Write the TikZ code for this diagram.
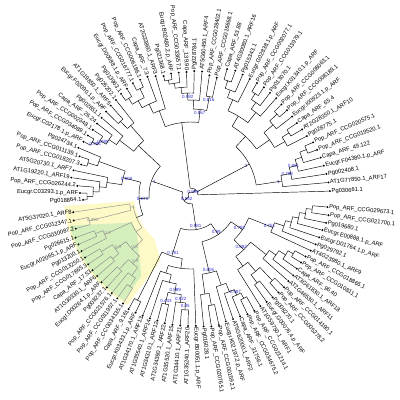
\documentclass[tikz,border=0pt]{standalone}
\usepackage{fontspec}
\setmainfont{Liberation Sans}
\definecolor{supc}{RGB}{45,45,215}
\definecolor{hlyel}{RGB}{253,250,200}
\definecolor{hlgrn}{RGB}{212,238,188}
\tikzset{
  br/.style={draw=black, line width=0.45pt},
  tipdot/.style={circle, fill=black, inner sep=0pt, minimum size=2.2pt},
  tiplab/.style={font=\fontsize{5.8}{6}\selectfont, inner sep=0.3pt},
  supp/.style={font=\fontsize{4.5}{5}\selectfont, text=supc, inner sep=0pt},
}
\newcommand\LeafAngle[1]{%
  \ifnum#1<52 \pgfmathsetmacro\tmpa{1.6+(#1-1)*3.62}%
  \else\ifnum#1<55 \pgfmathsetmacro\tmpa{188.3+(#1-52)*4.0}%
  \else\ifnum#1<77 \pgfmathsetmacro\tmpa{200.3+(#1-55)*3.42}%
  \else \pgfmathsetmacro\tmpa{275.5+(#1-77)*3.31}\fi\fi\fi}
\newcommand\Lf[3]{%
  \LeafAngle{#1}%
  \expandafter\xdef\csname angXL#1\endcsname{\tmpa}%
  \node[tipdot] (L#1) at (\tmpa:#2) {};
  \pgfmathsetmacro\tmpr{#2+1.2}%
  \pgfmathtruncatemacro\isleft{cos(\tmpa)<0 ? 1 : 0}%
  \ifnum\isleft=1
    \pgfmathsetmacro\rot{\tmpa-180}%
    \node[tiplab, anchor=east, rotate=\rot] (T#1) at (\tmpa:\tmpr) {#3};
  \else
    \node[tiplab, anchor=west, rotate=\tmpa] (T#1) at (\tmpa:\tmpr) {#3};
  \fi}
% \In[branch style]{name}{radius}{support}{children in angle order}
\newcommand\In[5][]{%
  \foreach \c [count=\k] in {#5}{\ifnum\k=1 \xdef\InFirst{\c}\fi\xdef\InLast{\c}}%
  \edef\As{\csname angX\InFirst\endcsname}%
  \edef\Ae{\csname angX\InLast\endcsname}%
  \pgfmathsetmacro\Am{(\As+\Ae)/2}%
  \expandafter\xdef\csname angX#2\endcsname{\Am}%
  \coordinate (#2) at (\Am:#3);
  \draw[br,#1] (\As:#3) arc[start angle=\As, end angle=\Ae, radius=#3pt];
  \foreach \c in {#5}{%
    \edef\ca{\csname angX\c\endcsname}%
    \coordinate (\c-b) at (\ca:#3);
    \draw[br,#1] (\c-b) -- (\c);
  }%
  \if\relax\detokenize{#4}\relax\else
    \pgfmathsetmacro\sr{#3-3.5}%
    \node[supp,#1,draw=none] at (\Am:\sr) {#4};
  \fi}
\tikzset{gbr/.style={draw=black!45, text=black!40}}
\begin{document}
\begin{tikzpicture}[x=1pt,y=1pt]
\useasboundingbox (-191,-205) rectangle (209,195);
\fill[white] (-191,-205) rectangle (209,195);
% clade highlights
\fill[hlyel] (185:121) -- (186:57) arc[start angle=186,end angle=230,radius=57pt] -- (245:72) -- (240:127) arc[start angle=240,end angle=185,radius=127pt] -- cycle;
\fill[hlgrn] (194.5:122) -- (205:65) -- (215:66) -- (238.5:95) -- (237.5:125) arc[start angle=237.5,end angle=194.5,radius=125pt] -- cycle;
% leaves
\Lf{1}{139}{Pg030661.1}
\Lf{2}{138}{AT1G77850.1\_ARF17}
\Lf{3}{137}{Pg002408.1}
\Lf{4}{136}{Eucgr.F04380.1.p\_ARF}
\Lf{5}{135}{Capa\_ARF\_49.122}
\Lf{6}{134}{Pop\_ARF\_CCG019520.1}
\Lf{7}{133}{Pop\_ARF\_CCG020575.1}
\Lf{8}{130}{Pg028775.1}
\Lf{9}{129}{AT2G28350.1\_ARF10}
\Lf{10}{128}{Capa\_ARF\_65.4}
\Lf{11}{128}{Eucgr.I00923.1.p\_ARF}
\Lf{12}{128}{Pop\_ARF\_CCG008189.1}
\Lf{13}{128}{Pop\_ARF\_CCG008063.1}
\Lf{14}{129}{Eucgr.K01340.1.p\_ARF}
\Lf{15}{129}{Pg013070.1}
\Lf{16}{130}{Pop\_ARF\_CCG013979.1}
\Lf{17}{130}{Pop\_ARF\_CCG002077.1}
\Lf{18}{130}{Eucgr.G02838.1.p\_ARF}
\Lf{19}{131}{Pg015343.1}
\Lf{20}{132}{AT4G30080.1\_ARF16}
\Lf{21}{131}{Capa\_ARF\_53.88}
\Lf{22}{120}{Pop\_ARF\_CCG016668.1}
\Lf{23}{121}{Pop\_ARF\_CCG028402.1}
\Lf{24}{124}{AT5G60450.1\_ARF4}
\Lf{25}{124}{Pg028784.1}
\Lf{26}{123}{Capa\_ARF\_139.90}
\Lf{27}{123}{Pop\_ARF\_CCG033657.1}
\Lf{28}{123}{Eucgr.B02480.2.p\_ARF}
\Lf{29}{122}{Pg021368.1}
\Lf{30}{124}{AT2G33860.1\_ARF3}
\Lf{31}{126}{Capa\_ARF\_7.3}
\Lf{32}{126}{Pop\_ARF\_CCG006186.1}
\Lf{33}{126}{Pop\_ARF\_CCG016777.1}
\Lf{34}{124}{Eucgr.D00588.1.p\_ARF}
\Lf{35}{123}{Pg013963.1}
\Lf{36}{121}{Pg026202.1}
\Lf{37}{120}{AT1G19850.1\_ARF5}
\Lf{38}{119}{Eucgr.F02090.1.p\_ARF}
\Lf{39}{118}{Pg002651.1}
\Lf{40}{118}{Capa\_ARF\_26.24}
\Lf{41}{118}{Pop\_ARF\_CCG002348.1}
\Lf{42}{119}{Pop\_ARF\_CCG034089.1}
\Lf{43}{120}{Eucgr.C02178.1.p\_ARF}
\Lf{44}{122}{Pg024734.1}
\Lf{45}{118}{Pop\_ARF\_CCG011139.1}
\Lf{46}{114}{Pop\_ARF\_CCG018207.3}
\Lf{47}{120}{AT5G20730.1\_ARF7}
\Lf{48}{121}{AT1G19220.1\_ARF19}
\Lf{49}{114}{Pop\_ARF\_CCG026244.2}
\Lf{50}{111}{Eucgr.C03293.1.p\_ARF}
\Lf{51}{108}{Pg018864.1}
\Lf{52}{119}{AT5G37020.1\_ARF8}
\Lf{53}{120}{Pop\_ARF\_CCG012347.1}
\Lf{54}{120}{Pop\_ARF\_CCG030087.2}
\Lf{55}{123}{Pg026615.1}
\Lf{56}{123}{Eucgr.A02065.1.p\_ARF}
\Lf{57}{123}{Pg013200.1}
\Lf{58}{123}{Pop\_ARF\_CCG013250.1}
\Lf{59}{124}{Pop\_ARF\_CCG017865.3}
\Lf{60}{124}{Capa\_ARF\_17.53}
\Lf{61}{124}{AT1G30330.1\_ARF6}
\Lf{62}{125}{Eucgr.D00264.1.p\_ARF}
\Lf{63}{125}{Pg008237.1}
\Lf{64}{126}{Pop\_ARF\_CCG021576.1}
\Lf{65}{127}{Pop\_ARF\_CCG011957.1}
\Lf{66}{128}{Pop\_ARF\_CCG034135.1}
\Lf{67}{130}{Capa\_ARF\_9.161}
\Lf{68}{130}{Eucgr.K03433.1.p\_ARF}
\Lf{69}{130}{AT1G34170.1\_ARF13}
\Lf{70}{130}{AT1G35540.1\_ARF14}
\Lf{71}{130}{AT1G34310.1\_ARF12}
\Lf{72}{131}{AT1G34390.1\_ARF22}
\Lf{73}{131}{AT1G35520.1\_ARF15}
\Lf{74}{131}{AT1G34410.1\_ARF21}
\Lf{75}{131}{AT1G35240.1\_ARF20}
\Lf{76}{131}{Eucgr.B00051.1.p\_ARF}
\Lf{77}{132}{Pg016028.1}
\Lf{78}{133}{Pop\_ARF\_CCG020765.1}
\Lf{79}{133}{Pop\_ARF\_CCG001592.1}
\Lf{80}{131}{Eucgr.K02197.2.p\_ARF}
\Lf{81}{131}{AT5G62000.1\_ARF2}
\Lf{82}{131}{Capa\_ARF\_31756.1}
\Lf{83}{132}{Pop\_ARF\_CCG034675.2}
\Lf{84}{132}{Pop\_ARF\_CCG021214.1}
\Lf{85}{131}{AT1G59750.1\_ARF1}
\Lf{86}{131}{Eucgr.G00076.4.p\_ARF}
\Lf{87}{131}{Pg008270.1}
\Lf{88}{131}{Pop\_ARF\_CCG005278.2}
\Lf{89}{131}{Pop\_ARF\_CCG014190.1}
\Lf{90}{130}{AT2G46530.1\_ARF11}
\Lf{91}{130}{AT3G61830.1\_ARF18}
\Lf{92}{129}{Capa\_ARF\_96.40}
\Lf{93}{129}{Pop\_ARF\_CCG010811.1}
\Lf{94}{130}{Pop\_ARF\_CCG018865.1}
\Lf{95}{132}{AT4G23980.1\_ARF9}
\Lf{96}{134}{Pg029792.1}
\Lf{97}{135}{Eucgr.D01764.1.p\_ARF}
\Lf{98}{136}{Eucgr.E00888.1.p\_ARF}
\Lf{99}{138}{Pg019680.1}
\Lf{100}{139}{Pop\_ARF\_CCG021700.1}
\Lf{101}{137}{Pop\_ARF\_CCG029673.1}
% group A (ARF10/16/17)
\In{nA17e}{124}{}{L6,L7}
\In{nA17d}{117}{}{L5,nA17e}
\In{nA17c}{110}{0.851}{L4,nA17d}
\In{nA17b}{102}{0.708}{L3,nA17c}
\In{nA17}{92}{1}{L2,nA17b}
\In{nA10b}{116}{}{L9,L10}
\In{nA10a}{108}{}{L8,nA10b}
\In{nA10d}{118}{}{L12,L13}
\In{nA10c}{108}{}{L11,nA10d}
\In{nA10}{96}{}{nA10a,nA10c}
\In{nA16c}{120}{}{L16,L17}
\In{nA16b}{113}{}{L15,nA16c}
\In{nA16a}{105}{}{L14,nA16b}
\In{nA16f}{120}{}{L20,L21}
\In{nA16e}{112}{}{L19,nA16f}
\In{nA16d}{104}{}{L18,nA16e}
\In{nA16}{92}{}{nA16a,nA16d}
\In{nA1016}{80}{}{nA10,nA16}
\In{nA}{66}{1}{nA17,nA1016}
% group T (ARF3/4)
\In{nT4a}{100}{0.816}{L22,L23}
\In{nT4f}{117}{}{L28,L29}
\In{nT4e}{113}{}{L27,nT4f}
\In{nT4d}{108}{}{L26,nT4e}
\In{nT4c}{102}{0.992}{L25,nT4d}
\In{nT4b}{95}{}{L24,nT4c}
\In{nT4}{86}{0.867}{nT4a,nT4b}
\In{nT3c}{118}{}{L32,L33}
\In{nT3d}{115}{}{L34,L35}
\In{nT3b}{108}{}{nT3c,nT3d}
\In{nT3a}{100}{}{L31,nT3b}
\In{nT3}{90}{}{L30,nT3a}
\In{nT}{73}{}{nT4,nT3}
% group L (class I)
\In{nL5b}{102}{}{L37,L38}
\In{nL5a}{92}{}{L36,nL5b}
\In{nL5f}{112}{0.984}{L42,L43}
\In{nL5e}{106}{0.998}{L41,nL5f}
\In{nL5d}{99}{}{L40,nL5e}
\In{nL5c}{90}{}{L39,nL5d}
\In{nL5}{72}{}{nL5a,nL5c}
\In{nL7b}{108}{}{L45,L46}
\In{nL7a}{98}{}{L44,nL7b}
\In{nL7f}{104}{}{L50,L51}
\In{nL7e}{98}{}{L49,nL7f}
\In{nL7d}{92}{}{L48,nL7e}
\In{nL7c}{85}{}{L47,nL7d}
\In{nL7}{70}{0.909}{nL7a,nL7c}
% highlighted clade (ARF6/ARF8)
\In[gbr]{nL8a}{105}{0.993}{L53,L54}
\In[gbr]{nL8}{62}{1}{L52,nL8a}
\In[gbr]{nL6a}{103}{}{L55,L56}
\In[gbr]{nL6A}{95}{0.9}{nL6a,L57}
\In[gbr]{nL6c1}{106}{}{L58,L59}
\In[gbr]{nL6c2}{101}{}{L60,L61}
\In[gbr]{nL6C}{93}{0.9}{nL6c1,nL6c2}
\In[gbr]{nL6d3}{110}{}{L65,L66}
\In[gbr]{nL6d2}{100}{}{L64,nL6d3}
\In[gbr]{nL6d1}{103}{}{L62,L63}
\In[gbr]{nL6D}{90}{0.9}{nL6d1,nL6d2}
\In[gbr]{nL6B}{80}{0.8}{nL6C,nL6D}
\In[gbr]{nL6}{66}{}{nL6A,nL6B}
\In[gbr]{nL68}{59}{}{nL8,nL6}
\In{nL2}{52}{0.970}{nL7,nL68}
\In{nL1}{42}{1}{nL5,nL2}
% group B (ARF12-22)
\In{nBa}{118}{}{L67,L68}
\In{nBh}{112}{0.443}{L71,L72}
\In{nBj}{115}{0.85}{L74,L75}
\In{nBi}{108}{0.922}{L73,nBj}
\In{nBg}{100}{0.889}{nBh,nBi}
\In{nBf}{90}{}{L70,nBg}
\In{nBe}{82}{}{L69,nBf}
\In{nB2}{74}{}{nBe,L76}
\In{nB}{64}{0.781}{nBa,nB2}
% group BR (ARF1/2/9/11/18)
\In{nRa1}{112}{}{L78,L79}
\In{nRa2}{100}{}{L77,nRa1}
\In{nRa4}{116}{}{L83,L84}
\In{nRa5}{110}{0.987}{L82,nRa4}
\In{nRa6}{104}{}{L81,nRa5}
\In{nRa3}{95}{}{L80,nRa6}
\In{nRa}{80}{0.605}{nRa2,nRa3}
\In{nR1b}{110}{}{L86,L87}
\In{nR1c}{118}{}{L88,L89}
\In{nR1a}{100}{}{nR1b,nR1c}
\In{nR1}{88}{}{L85,nR1a}
\In{nR11a}{118}{}{L93,L94}
\In{nR11b}{112}{}{L92,nR11a}
\In{nR11c}{104}{}{L91,nR11b}
\In{nR11}{96}{}{L90,nR11c}
\In{nR111}{76}{0.882}{nR1,nR11}
\In{nR9a}{122}{}{L100,L101}
\In{nR9b}{116}{}{L99,nR9a}
\In{nR9c}{110}{}{L98,nR9b}
\In{nR9d}{104}{}{L97,nR9c}
\In{nR9e}{98}{}{L96,nR9d}
\In{nR9}{88}{0.751}{L95,nR9e}
\In{nRb}{62}{0.792}{nR111,nR9}
\In{nBR}{48}{0.99}{nRa,nRb}
\In{nBot}{35}{0.981}{nB,nBR}
% root
\In{nUp}{7}{0.999}{L1,nA,nT}
\In{nDn}{9}{0.962}{nL1,nBot}
\In{nRoot}{3}{}{nUp,nDn}
\end{tikzpicture}
\end{document}
